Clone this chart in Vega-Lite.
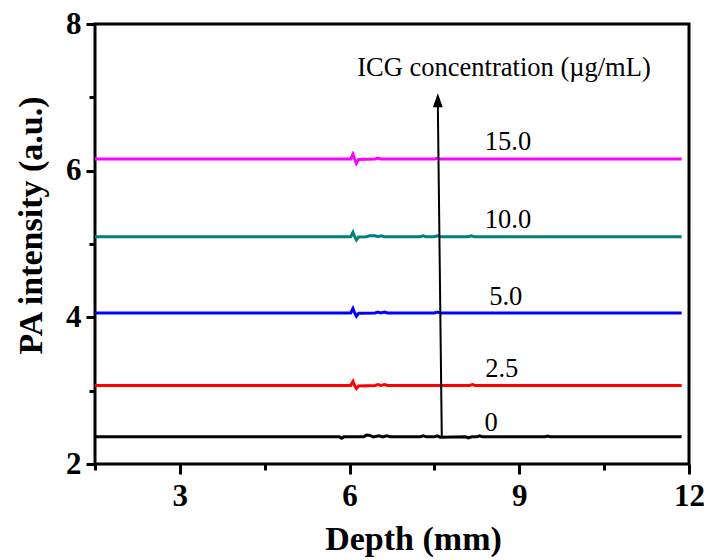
{
  "$schema": "https://vega.github.io/schema/vega-lite/v6.json",
  "autosize": {"type": "none"},
  "padding": {"left": 95, "top": 24, "right": 22, "bottom": 96},
  "width": 594,
  "height": 440,
  "config": {
    "view": {"stroke": "black", "strokeWidth": 3},
    "axis": {"domain": false, "grid": false, "tickColor": "black", "tickWidth": 3, "labelColor": "black", "titleColor": "black", "labelFont": "Liberation Serif", "titleFont": "Liberation Serif", "labelFontWeight": "bold", "titleFontWeight": "bold", "labelFlush": false, "labelOverlap": false, "labelBound": false}
  },
  "datasets": {
    "curves": [
      {"s": "0", "x": 1.5, "y": 2.37}, {"s": "0", "x": 5.82, "y": 2.37}, {"s": "0", "x": 5.86, "y": 2.35}, {"s": "0", "x": 5.9, "y": 2.37}, {"s": "0", "x": 6.25, "y": 2.37}, {"s": "0", "x": 6.3, "y": 2.395}, {"s": "0", "x": 6.36, "y": 2.39}, {"s": "0", "x": 6.42, "y": 2.37}, {"s": "0", "x": 6.52, "y": 2.385}, {"s": "0", "x": 6.58, "y": 2.37}, {"s": "0", "x": 6.66, "y": 2.385}, {"s": "0", "x": 6.72, "y": 2.37}, {"s": "0", "x": 7.25, "y": 2.37}, {"s": "0", "x": 7.3, "y": 2.385}, {"s": "0", "x": 7.36, "y": 2.37}, {"s": "0", "x": 7.5, "y": 2.37}, {"s": "0", "x": 7.55, "y": 2.383}, {"s": "0", "x": 7.6, "y": 2.365}, {"s": "0", "x": 8.05, "y": 2.37}, {"s": "0", "x": 8.1, "y": 2.355}, {"s": "0", "x": 8.16, "y": 2.37}, {"s": "0", "x": 8.25, "y": 2.37}, {"s": "0", "x": 8.3, "y": 2.383}, {"s": "0", "x": 8.35, "y": 2.37}, {"s": "0", "x": 9.45, "y": 2.37}, {"s": "0", "x": 9.5, "y": 2.382}, {"s": "0", "x": 9.55, "y": 2.37}, {"s": "0", "x": 11.87, "y": 2.37},
      {"s": "2.5", "x": 1.5, "y": 3.07}, {"s": "2.5", "x": 6.02, "y": 3.07}, {"s": "2.5", "x": 6.06, "y": 3.125}, {"s": "2.5", "x": 6.09, "y": 3.07}, {"s": "2.5", "x": 6.12, "y": 3.03}, {"s": "2.5", "x": 6.16, "y": 3.065}, {"s": "2.5", "x": 6.45, "y": 3.07}, {"s": "2.5", "x": 6.5, "y": 3.082}, {"s": "2.5", "x": 6.55, "y": 3.07}, {"s": "2.5", "x": 6.62, "y": 3.082}, {"s": "2.5", "x": 6.67, "y": 3.07}, {"s": "2.5", "x": 8.12, "y": 3.07}, {"s": "2.5", "x": 8.17, "y": 3.082}, {"s": "2.5", "x": 8.22, "y": 3.07}, {"s": "2.5", "x": 11.87, "y": 3.07},
      {"s": "5.0", "x": 1.5, "y": 4.06}, {"s": "5.0", "x": 6.02, "y": 4.06}, {"s": "5.0", "x": 6.06, "y": 4.12}, {"s": "5.0", "x": 6.09, "y": 4.06}, {"s": "5.0", "x": 6.12, "y": 4.015}, {"s": "5.0", "x": 6.16, "y": 4.055}, {"s": "5.0", "x": 6.45, "y": 4.06}, {"s": "5.0", "x": 6.5, "y": 4.072}, {"s": "5.0", "x": 6.55, "y": 4.06}, {"s": "5.0", "x": 6.62, "y": 4.072}, {"s": "5.0", "x": 6.67, "y": 4.06}, {"s": "5.0", "x": 7.5, "y": 4.06}, {"s": "5.0", "x": 7.55, "y": 4.072}, {"s": "5.0", "x": 7.6, "y": 4.06}, {"s": "5.0", "x": 11.87, "y": 4.06},
      {"s": "10.0", "x": 1.5, "y": 5.1}, {"s": "10.0", "x": 6.02, "y": 5.1}, {"s": "10.0", "x": 6.06, "y": 5.16}, {"s": "10.0", "x": 6.09, "y": 5.1}, {"s": "10.0", "x": 6.12, "y": 5.055}, {"s": "10.0", "x": 6.16, "y": 5.095}, {"s": "10.0", "x": 6.3, "y": 5.1}, {"s": "10.0", "x": 6.35, "y": 5.112}, {"s": "10.0", "x": 6.45, "y": 5.112}, {"s": "10.0", "x": 6.5, "y": 5.1}, {"s": "10.0", "x": 6.56, "y": 5.112}, {"s": "10.0", "x": 6.61, "y": 5.1}, {"s": "10.0", "x": 7.25, "y": 5.1}, {"s": "10.0", "x": 7.3, "y": 5.113}, {"s": "10.0", "x": 7.35, "y": 5.1}, {"s": "10.0", "x": 7.5, "y": 5.1}, {"s": "10.0", "x": 7.55, "y": 5.113}, {"s": "10.0", "x": 7.6, "y": 5.1}, {"s": "10.0", "x": 8.1, "y": 5.1}, {"s": "10.0", "x": 8.15, "y": 5.113}, {"s": "10.0", "x": 8.2, "y": 5.1}, {"s": "10.0", "x": 11.87, "y": 5.1},
      {"s": "15.0", "x": 1.5, "y": 6.16}, {"s": "15.0", "x": 6.02, "y": 6.16}, {"s": "15.0", "x": 6.06, "y": 6.225}, {"s": "15.0", "x": 6.09, "y": 6.16}, {"s": "15.0", "x": 6.12, "y": 6.1}, {"s": "15.0", "x": 6.16, "y": 6.152}, {"s": "15.0", "x": 6.45, "y": 6.16}, {"s": "15.0", "x": 6.5, "y": 6.172}, {"s": "15.0", "x": 6.55, "y": 6.16}, {"s": "15.0", "x": 7.5, "y": 6.16}, {"s": "15.0", "x": 7.55, "y": 6.17}, {"s": "15.0", "x": 7.6, "y": 6.16}, {"s": "15.0", "x": 11.87, "y": 6.16}
    ],
    "labels": [
      {"t": "15.0", "x": 8.8, "y": 6.39},
      {"t": "10.0", "x": 8.8, "y": 5.33},
      {"t": "5.0", "x": 8.76, "y": 4.28},
      {"t": "2.5", "x": 8.69, "y": 3.29},
      {"t": "0", "x": 8.5, "y": 2.56},
      {"t": "ICG concentration (µg/mL)", "x": 8.73, "y": 7.4}
    ],
    "arrow": [
      {"x": 7.63, "y": 2.37, "x2": 7.56, "y2": 6.92}
    ],
    "head": [
      {"x": 7.56, "y": 6.96}
    ]
  },
  "resolve": {"axis": {"x": "independent", "y": "independent"}},
  "layer": [
    {
      "data": {"name": "curves"},
      "mark": {"type": "line", "strokeWidth": 3, "interpolate": "linear"},
      "encoding": {
        "x": {"field": "x", "type": "quantitative", "scale": {"domain": [1.5, 12], "nice": false, "zero": false},
          "axis": {"orient": "bottom", "values": [3, 6, 9, 12], "tickSize": 10, "labelFontSize": 31, "labelPadding": 7, "title": "Depth (mm)", "titleFontSize": 34, "titleX": 318, "titleY": 85, "titleBaseline": "alphabetic", "titleAnchor": null}},
        "y": {"field": "y", "type": "quantitative", "scale": {"domain": [2, 8], "nice": false, "zero": false},
          "axis": {"orient": "left", "values": [2, 4, 6, 8], "tickSize": 9, "labelFontSize": 31, "labelPadding": 5, "title": "PA intensity (a.u.)", "titleFontSize": 34, "titleX": -54, "titleY": 201, "titleBaseline": "alphabetic", "titleAngle": -90}},
        "color": {"field": "s", "type": "nominal", "legend": null,
          "scale": {"domain": ["0", "2.5", "5.0", "10.0", "15.0"], "range": ["#000000", "#ff0000", "#0000ff", "#008080", "#ff00ff"]}},
        "detail": {"field": "s"}
      }
    },
    {
      "data": {"name": "labels"},
      "mark": {"type": "text", "font": "Liberation Serif", "fontSize": 26.5, "color": "black", "align": "center", "baseline": "middle"},
      "encoding": {
        "x": {"field": "x", "type": "quantitative",
          "axis": {"orient": "bottom", "values": [1.5, 4.5, 7.5, 10.5], "tickSize": 6, "labels": false, "title": null}},
        "y": {"field": "y", "type": "quantitative",
          "axis": {"orient": "left", "values": [3, 5, 7], "tickSize": 6, "labels": false, "title": null}},
        "text": {"field": "t"}
      }
    },
    {
      "data": {"name": "arrow"},
      "mark": {"type": "rule", "color": "black", "strokeWidth": 2},
      "encoding": {
        "x": {"field": "x", "type": "quantitative", "axis": null},
        "y": {"field": "y", "type": "quantitative", "axis": null},
        "x2": {"field": "x2"},
        "y2": {"field": "y2"}
      }
    },
    {
      "data": {"name": "head"},
      "mark": {"type": "point", "shape": "M0,-1L0.7,1L-0.7,1Z", "size": 196, "filled": true, "color": "black", "opacity": 1, "strokeWidth": 0},
      "encoding": {
        "x": {"field": "x", "type": "quantitative", "axis": null},
        "y": {"field": "y", "type": "quantitative", "axis": null}
      }
    }
  ]
}
